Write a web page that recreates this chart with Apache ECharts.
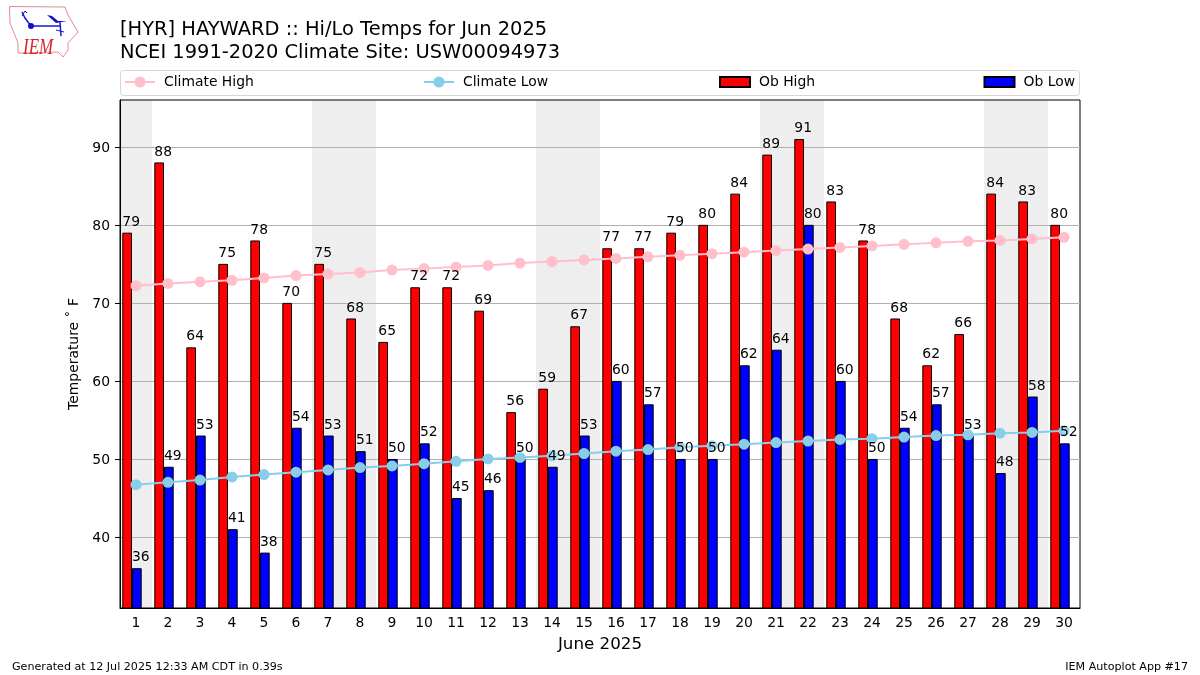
<!DOCTYPE html>
<html>
<head>
<meta charset="utf-8">
<title>Hi/Lo Temps</title>
<script src="https://cdn.jsdelivr.net/npm/echarts@6/dist/echarts.min.js"></script>
<style>
html,body{margin:0;padding:0;background:#fff}
#chart{width:1200px;height:675px}
</style>
</head>
<body>
<div id="chart"></div>
<script>
const days = ['1','2','3','4','5','6','7','8','9','10','11','12','13','14','15','16','17','18','19','20','21','22','23','24','25','26','27','28','29','30'];
const obHigh = [79,88,64.3,75,78,70,75,68,65,72,72,69,56,59,67,77,77,79,80,84,89,91,83,78,68,62,66,84,83,80];
const obLow = [36,49,53,41,38,54,53,51,50,52,45,46,50,49,53,60,57,50,50,62,64,80,60,50,54,57,53,48.2,58,52];
const climateHigh = [72.2,72.5,72.7,72.9,73.2,73.5,73.7,73.9,74.2,74.4,74.6,74.8,75.1,75.3,75.5,75.7,75.9,76.1,76.3,76.5,76.7,76.9,77.1,77.3,77.5,77.7,77.9,78.0,78.2,78.4];
const climateLow = [46.7,47.0,47.3,47.7,48.0,48.3,48.6,48.9,49.1,49.4,49.7,50.0,50.2,50.4,50.7,51.0,51.2,51.5,51.7,51.9,52.1,52.3,52.5,52.6,52.8,53.0,53.1,53.3,53.4,53.6];
const weekendDays = ['1','7','8','14','15','21','22','28','29'];
const yTicks = [40,50,60,70,80,90];

const FONT = '"DejaVu Sans"';
const yMin = 30.9, yMax = 96;
const myChart = echarts.init(document.getElementById('chart'), null, {renderer:'canvas'});

// labels sit in their own scatter series so they draw on top of the climate lines
const labelSeries = (name, values, dx) => ({
    name: name,
    type: 'scatter',
    xAxisIndex: 0,
    z: 6,
    silent: true,
    symbolSize: 1,
    itemStyle: {color: 'transparent', opacity: 1},
    data: values.map((v,i) => [days[i], v]),
    label: {
        show: true,
        position: 'top',
        align: 'left',
        offset: [dx, 2],
        fontFamily: FONT,
        fontSize: 13.9,
        color: '#000',
        opacity: 1,
        textShadowColor: '#fff',
        textShadowBlur: 3,
        formatter: p => String(Math.floor(p.value[1]))
    }
});

const climateSeries = (name, values, color) => ({
    name: name,
    type: 'line',
    xAxisIndex: 0,
    z: 5,
    silent: true,
    symbol: 'circle',
    symbolSize: 11,
    showSymbol: true,
    lineStyle: {color: color, width: 2},
    itemStyle: {color: color},
    data: values
});

const barSeries = (name, values, color, width) => ({
    name: name,
    type: 'bar',
    xAxisIndex: 0,
    z: 3,
    silent: true,
    barWidth: width,
    barGap: 0,
    itemStyle: {color: color, borderColor: '#000', borderWidth: 1},
    data: values
});

const legendItem = (name, left, h) => ({
    data: [{name: name, icon: h < 12 ? 'rect' : undefined}],
    left: left,
    top: 75,
    padding: 0,
    itemWidth: 30,
    itemHeight: h,
    itemGap: 0,
    selectedMode: false,
    textStyle: {fontFamily: FONT, fontSize: 13.9, color: '#000', padding: [0,0,0,4]}
});

let option = {
    animation: false,
    backgroundColor: '#fff',
    textStyle: {fontFamily: FONT},
    grid: {left: 120, right: 120, top: 100, bottom: 67, show: true, borderColor: '#000', borderWidth: 1, backgroundColor: 'transparent'},
    legend: [
        legendItem('Climate High', 124, 14),
        legendItem('Climate Low', 423, 14),
        legendItem('Ob High', 719, 10),
        legendItem('Ob Low', 983.5, 10)
    ],
    xAxis: [{
        type: 'category',
        data: days,
        name: 'June 2025',
        nameLocation: 'middle',
        nameGap: 28,
        nameTextStyle: {fontFamily: FONT, fontSize: 16.7, color: '#000'},
        axisLine: {onZero: false, lineStyle: {color: '#000', width: 1}},
        axisTick: {alignWithLabel: true, length: 5, lineStyle: {color: '#000'}},
        axisLabel: {interval: 0, margin: 8, fontFamily: FONT, fontSize: 13.9, color: '#000'},
        splitLine: {show: false}
    },{
        type: 'category',
        data: days,
        show: false
    }],
    yAxis: {
        type: 'value',
        min: yMin,
        max: yMax,
        splitNumber: 6,
        name: 'Temperature ˚ F',
        nameLocation: 'middle',
        nameRotate: 90,
        nameGap: 36,
        nameTextStyle: {fontFamily: FONT, fontSize: 13.9, color: '#000'},
        axisLine: {show: true, lineStyle: {color: '#000', width: 1}},
        axisTick: {show: true, length: 5, lineStyle: {color: '#000'}, customValues: yTicks},
        axisLabel: {
            margin: 10,
            customValues: yTicks,
            formatter: v => `{t|${v}}`,
            rich: {t: {fontFamily: FONT, fontSize: 13.9, color: '#000', padding: [3,0,0,0]}}
        },
        splitLine: {show: true, lineStyle: {color: '#b0b0b0', width: 1}}
    },
    series: [
        {
            name: 'weekend',
            type: 'bar',
            xAxisIndex: 1,
            z: -1,
            silent: true,
            barWidth: '100%',
            itemStyle: {color: '#eeeeee'},
            data: days.map(d => weekendDays.includes(d) ? yMax : null)
        },
        climateSeries('Climate High', climateHigh, '#ffc0cb'),
        climateSeries('Climate Low', climateLow, '#87ceeb'),
        barSeries('Ob High', obHigh, '#ff0000', 9.7),
        barSeries('Ob Low', obLow, '#0000ff', 9.7),
        // empty third slot, keeps the high/low pair left of each day tick
        barSeries('spacer', days.map(() => null), 'transparent', 8),
        labelSeries('high label', obHigh, -13.7),
        labelSeries('low label', obLow, -4)
    ],
    graphic: [
        {type: 'rect', z: 1, shape: {x: 120.5, y: 70.5, width: 959, height: 25, r: 3}, style: {fill: '#fff', stroke: '#d6d6d6', lineWidth: 1}},
        {type: 'text', left: 120, top: 19, style: {text: '[HYR] HAYWARD :: Hi/Lo Temps for Jun 2025\nNCEI 1991-2020 Climate Site: USW00094973', font: '19.45px "DejaVu Sans"', lineHeight: 22.5, fill: '#000'}},
        {type: 'text', left: 12, top: 662, style: {text: 'Generated at 12 Jul 2025 12:33 AM CDT in 0.39s', font: '11.12px "DejaVu Sans"', fill: '#000'}},
        {type: 'text', right: 12, top: 662, style: {text: 'IEM Autoplot App #17', font: '11.12px "DejaVu Sans"', fill: '#000'}},
        // IEM logo
        {type: 'polygon', shape: {points: [[9.5,6.5],[65,7],[68,15],[78,32],[68,43],[68,50],[63,57],[58,52],[18,53],[18,43],[10,23]]}, style: {fill: '#fff', stroke: '#e58a8f', lineWidth: 1}},
        {type: 'polyline', shape: {points: [[22,12],[25,18],[31,26],[60,26]]}, style: {fill: 'none', stroke: '#1a1ad6', lineWidth: 1.5}},
        {type: 'polyline', shape: {points: [[22,16],[25,11],[27,13]]}, style: {fill: 'none', stroke: '#1a1ad6', lineWidth: 1}},
        {type: 'circle', shape: {cx: 31, cy: 26, r: 3}, style: {fill: '#1010c8'}},
        {type: 'polygon', shape: {points: [[47,15],[52,16],[58,21],[67,21],[56,23]]}, style: {fill: '#1010c8'}},
        {type: 'polyline', shape: {points: [[60,22],[61,36]]}, style: {fill: 'none', stroke: '#1a1ad6', lineWidth: 1.5}},
        {type: 'polyline', shape: {points: [[56,30],[64,32]]}, style: {fill: 'none', stroke: '#1a1ad6', lineWidth: 1}},
        {type: 'text', x: 23, y: 36, scaleY: 1.35, style: {text: 'IEM', font: 'italic 17px "Liberation Serif"', fill: '#d9262e', verticalAlign: 'top'}}
    ]
};
myChart.setOption(option);
</script>
</body>
</html>
